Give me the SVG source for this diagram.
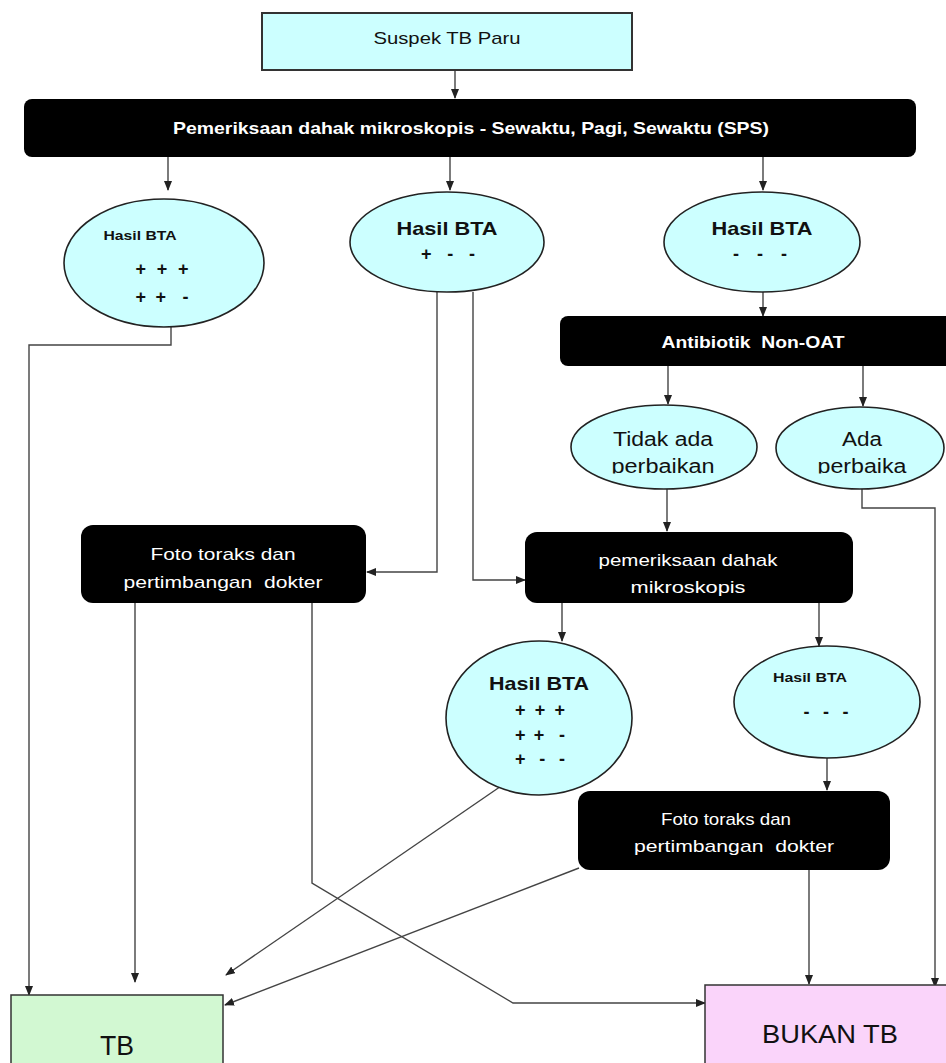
<svg xmlns="http://www.w3.org/2000/svg" width="946" height="1063" viewBox="0 0 946 1063">
<style>
.cy{fill:#ccffff;stroke:#222;stroke-width:1.6}
.blk{fill:#000}
.wt{fill:#fff;font-family:"Liberation Sans Narrow","Liberation Sans",sans-serif;font-size:17px;text-anchor:middle}
.wb{font-weight:bold}
.et{fill:#111;font-family:"Liberation Sans",Arial,sans-serif;text-anchor:middle}
.b{font-weight:bold}
.cn{fill:none;stroke:#444;stroke-width:1.4}
</style>
<defs>
<marker id="ah" markerWidth="10" markerHeight="8" refX="9" refY="4" orient="auto" markerUnits="userSpaceOnUse">
<path d="M0,0 L10,4 L0,8 Z" fill="#222"/>
</marker>
<clipPath id="clipT"><rect x="560" y="400" width="386" height="73.5"/></clipPath>
</defs>
<rect width="946" height="1063" fill="#fff"/>

<g id="connectors">
<path class="cn" d="M455 70 V98" marker-end="url(#ah)"/>
<path class="cn" d="M168 157 V190" marker-end="url(#ah)"/>
<path class="cn" d="M450 157 V190" marker-end="url(#ah)"/>
<path class="cn" d="M763 157 V190" marker-end="url(#ah)"/>
<path class="cn" d="M171 323 V345 H29 V995" marker-end="url(#ah)"/>
<path class="cn" d="M437 292 V572 H367" marker-end="url(#ah)"/>
<path class="cn" d="M473 292 V580 H525" marker-end="url(#ah)"/>
<path class="cn" d="M763 292 V316" marker-end="url(#ah)"/>
<path class="cn" d="M668 366 V404" marker-end="url(#ah)"/>
<path class="cn" d="M863 366 V406" marker-end="url(#ah)"/>
<path class="cn" d="M667 489 V531" marker-end="url(#ah)"/>
<path class="cn" d="M862 489 V508 H935 V987" marker-end="url(#ah)"/>
<path class="cn" d="M562 603 V641" marker-end="url(#ah)"/>
<path class="cn" d="M819 603 V646" marker-end="url(#ah)"/>
<path class="cn" d="M827 758 V790" marker-end="url(#ah)"/>
<path class="cn" d="M135 603 V982" marker-end="url(#ah)"/>
<path class="cn" d="M312 603 V883 L513 1003 H705" marker-end="url(#ah)"/>
<path class="cn" d="M507 782 L226 975" marker-end="url(#ah)"/>
<path class="cn" d="M579 868 L225 1005" marker-end="url(#ah)"/>
<path class="cn" d="M809 870 V984" marker-end="url(#ah)"/>
</g>

<g id="suspek">
<rect x="262" y="13" width="370" height="57" fill="#ccffff" stroke="#333" stroke-width="2"/>
<text x="447" y="44" style="fill:#111;font-family:'Liberation Sans Narrow','Liberation Sans',sans-serif;font-size:17px;text-anchor:middle" textLength="147" lengthAdjust="spacingAndGlyphs">Suspek TB Paru</text>
</g>

<g id="sps">
<rect class="blk" x="24" y="99" width="892" height="58" rx="8"/>
<text class="wt wb" x="471" y="134" textLength="596" lengthAdjust="spacingAndGlyphs">Pemeriksaan dahak mikroskopis - Sewaktu, Pagi, Sewaktu (SPS)</text>
</g>

<g id="hasil1">
<ellipse class="cy" cx="164" cy="263" rx="100" ry="64"/>
<text class="et b" x="140" y="240" font-size="12" textLength="73" lengthAdjust="spacingAndGlyphs">Hasil BTA</text>
<text class="et b" x="162" y="275" font-size="18" textLength="53" lengthAdjust="spacing" xml:space="preserve">+ + +</text>
<text class="et b" x="162" y="303" font-size="18" textLength="53" lengthAdjust="spacing" xml:space="preserve">+ +  -</text>
</g>

<g id="hasil2">
<ellipse class="cy" cx="447" cy="242" rx="97" ry="50"/>
<text class="et b" x="447" y="235" font-size="19" textLength="101" lengthAdjust="spacingAndGlyphs">Hasil BTA</text>
<text class="et b" x="448" y="260" font-size="18" textLength="54" lengthAdjust="spacing" xml:space="preserve">+  -  -</text>
</g>

<g id="hasil3">
<ellipse class="cy" cx="762" cy="242" rx="98" ry="50"/>
<text class="et b" x="762" y="235" font-size="19" textLength="101" lengthAdjust="spacingAndGlyphs">Hasil BTA</text>
<text class="et b" x="760" y="260" font-size="18" textLength="54" lengthAdjust="spacing" xml:space="preserve">-  -  -</text>
</g>

<g id="antibiotik">
<rect class="blk" x="560" y="316" width="400" height="50" rx="8"/>
<text class="wt wb" x="753" y="348" textLength="183" lengthAdjust="spacingAndGlyphs" xml:space="preserve">Antibiotik  Non-OAT</text>
</g>

<g id="tidak">
<ellipse class="cy" cx="664" cy="447" rx="93" ry="42"/>
<g clip-path="url(#clipT)">
<text class="et" x="663" y="446" font-size="20" textLength="100" lengthAdjust="spacingAndGlyphs">Tidak ada</text>
<text class="et" x="663" y="473" font-size="20" textLength="103" lengthAdjust="spacingAndGlyphs">perbaikan</text>
</g>
</g>

<g id="ada">
<ellipse class="cy" cx="860" cy="448" rx="84" ry="41"/>
<g clip-path="url(#clipT)">
<text class="et" x="862" y="446" font-size="20" textLength="40" lengthAdjust="spacingAndGlyphs">Ada</text>
<text class="et" x="862" y="473" font-size="20" textLength="89" lengthAdjust="spacingAndGlyphs">perbaika</text>
</g>
</g>

<g id="foto1">
<rect class="blk" x="81" y="525" width="285" height="78" rx="12"/>
<text class="wt" x="223" y="560" textLength="145" lengthAdjust="spacingAndGlyphs">Foto toraks dan</text>
<text class="wt" x="223" y="588" textLength="199" lengthAdjust="spacingAndGlyphs" xml:space="preserve">pertimbangan  dokter</text>
</g>

<g id="pemeriksaan2">
<rect class="blk" x="525" y="532" width="328" height="71" rx="12"/>
<text class="wt" x="688" y="566" textLength="179" lengthAdjust="spacingAndGlyphs">pemeriksaan dahak</text>
<text class="wt" x="688" y="593" textLength="115" lengthAdjust="spacingAndGlyphs">mikroskopis</text>
</g>

<g id="hasil4">
<ellipse class="cy" cx="539" cy="718" rx="93" ry="77"/>
<text class="et b" x="539" y="690" font-size="19" textLength="100" lengthAdjust="spacingAndGlyphs">Hasil BTA</text>
<text class="et b" x="540" y="716" font-size="18" textLength="50" lengthAdjust="spacing" xml:space="preserve">+ + +</text>
<text class="et b" x="540" y="741" font-size="18" textLength="50" lengthAdjust="spacing" xml:space="preserve">+ +  -</text>
<text class="et b" x="540" y="765" font-size="18" textLength="50" lengthAdjust="spacing" xml:space="preserve">+  -  -</text>
</g>

<g id="hasil5">
<ellipse class="cy" cx="827" cy="702" rx="93" ry="56"/>
<text class="et b" x="810" y="682" font-size="12" textLength="74" lengthAdjust="spacingAndGlyphs">Hasil BTA</text>
<text class="et b" x="826" y="718" font-size="18" textLength="45" lengthAdjust="spacing" xml:space="preserve">-  -  -</text>
</g>

<g id="foto2">
<rect class="blk" x="578" y="791" width="312" height="79" rx="12"/>
<text class="wt" x="726" y="825" textLength="130" lengthAdjust="spacingAndGlyphs">Foto toraks dan</text>
<text class="wt" x="734" y="852" textLength="200" lengthAdjust="spacingAndGlyphs" xml:space="preserve">pertimbangan  dokter</text>
</g>

<g id="tb">
<rect x="11" y="995" width="212" height="80" fill="#d2f8d2" stroke="#333" stroke-width="1.5"/>
<text class="et" x="117" y="1055" font-size="27" textLength="34" lengthAdjust="spacingAndGlyphs">TB</text>
</g>

<g id="bukan">
<rect x="705" y="985" width="260" height="90" fill="#fad4fa" stroke="#333" stroke-width="1.5"/>
<text class="et" x="830" y="1043" font-size="26" textLength="136" lengthAdjust="spacingAndGlyphs">BUKAN TB</text>
</g>
</svg>
